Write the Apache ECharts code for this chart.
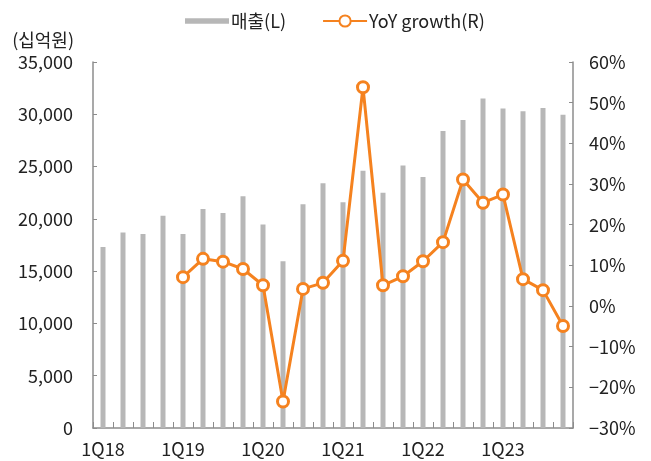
<!DOCTYPE html>
<html>
<head>
<meta charset="utf-8">
<script src="https://cdn.jsdelivr.net/npm/echarts@6/dist/echarts.min.js"></script>
<style>
  html, body { margin: 0; padding: 0; background: #fff; }
  #chart { width: 651px; height: 461px; }
</style>
</head>
<body>
<div id="chart"></div>
<script>
// quarters 1Q18 .. 4Q23
let quarters = [
    '1Q18','2Q18','3Q18','4Q18',
    '1Q19','2Q19','3Q19','4Q19',
    '1Q20','2Q20','3Q20','4Q20',
    '1Q21','2Q21','3Q21','4Q21',
    '1Q22','2Q22','3Q22','4Q22',
    '1Q23','2Q23','3Q23','4Q23'
];

// 매출 (십억원)
let sales = [
    17300, 18700, 18550, 20300,
    18550, 20950, 20550, 22150,
    19450, 15950, 21400, 23400,
    21600, 24600, 22500, 25100,
    24000, 28400, 29450, 31500,
    30550, 30300, 30600, 29950
];

// YoY growth (%), no value for 2018
let yoy = [
    null, null, null, null,
    7.1, 11.6, 10.9, 9.1,
    5.1, -23.5, 4.2, 5.7,
    11.1, 53.8, 5.1, 7.3,
    11.0, 15.7, 31.1, 25.4,
    27.4, 6.6, 3.9, -4.9
];

let leftTicks = { min: 0, max: 35000, step: 5000 };
let rightTicks = { min: -30, max: 60, step: 10 };

const FONT = '"Noto Sans CJK KR", "Noto Sans", sans-serif';
const AXIS_GREY = '#8c8c8c';
const BAR_GREY = '#b7b7b7';
const ORANGE = '#f5821f';

let chart = echarts.init(document.getElementById('chart'));

let option = {
    animation: false,
    textStyle: { fontFamily: FONT },
    legend: {
        top: 7,
        left: 180,
        itemGap: 36,
        itemWidth: 44,
        itemHeight: 14,
        textStyle: { fontFamily: FONT, fontSize: 18, color: '#222', padding: [0, 0, 0, -3] },
        data: [
            { name: '매출(L)', icon: 'path://M0,0H40V5H0Z' },
            { name: 'YoY growth(R)' }
        ]
    },
    grid: {
        left: 93,
        right: 78,
        top: 62,
        bottom: 33
    },
    xAxis: {
        type: 'category',
        data: quarters,
        boundaryGap: true,
        axisLine: { show: true, lineStyle: { color: AXIS_GREY, width: 1.5 } },
        axisTick: { show: true, inside: true, length: 6, interval: 0, lineStyle: { color: AXIS_GREY } },
        axisLabel: {
            interval: 3,
            fontFamily: FONT,
            fontSize: 18,
            color: '#222',
            margin: 12
        }
    },
    yAxis: [
        {
            type: 'value',
            name: '(십억원)',
            nameLocation: 'end',
            nameGap: 13,
            nameTextStyle: { fontFamily: FONT, fontSize: 18, color: '#222', align: 'right', padding: [0, 19, 0, 0] },
            min: leftTicks.min,
            max: leftTicks.max,
            interval: leftTicks.step,
            splitLine: { show: false },
            axisLine: { show: true, lineStyle: { color: AXIS_GREY, width: 1.5 } },
            axisTick: { show: true, inside: true, length: 4, lineStyle: { color: AXIS_GREY } },
            axisLabel: {
                fontFamily: FONT,
                fontSize: 18,
                color: '#222',
                margin: 20,
                formatter: v => v.toLocaleString('en-US')
            }
        },
        {
            type: 'value',
            position: 'right',
            min: rightTicks.min,
            max: rightTicks.max,
            interval: rightTicks.step,
            splitLine: { show: false },
            axisLine: { show: true, lineStyle: { color: AXIS_GREY, width: 1.5 } },
            axisTick: { show: true, inside: true, length: 4, lineStyle: { color: AXIS_GREY } },
            axisLabel: {
                fontFamily: FONT,
                fontSize: 18,
                color: '#222',
                margin: 16,
                formatter: v => (v < 0 ? '\u2212' + (-v) : v) + '%'
            }
        }
    ],
    series: [
        {
            name: '매출(L)',
            type: 'bar',
            yAxisIndex: 0,
            barWidth: 5,
            itemStyle: { color: BAR_GREY },
            data: sales
        },
        {
            name: 'YoY growth(R)',
            type: 'line',
            yAxisIndex: 1,
            symbol: 'circle',
            symbolSize: 11,
            showAllSymbol: true,
            connectNulls: false,
            lineStyle: { color: ORANGE, width: 3 },
            itemStyle: { color: '#fff', borderColor: ORANGE, borderWidth: 3 },
            z: 3,
            data: yoy
        }
    ]
};

chart.setOption(option);
</script>
</body>
</html>
